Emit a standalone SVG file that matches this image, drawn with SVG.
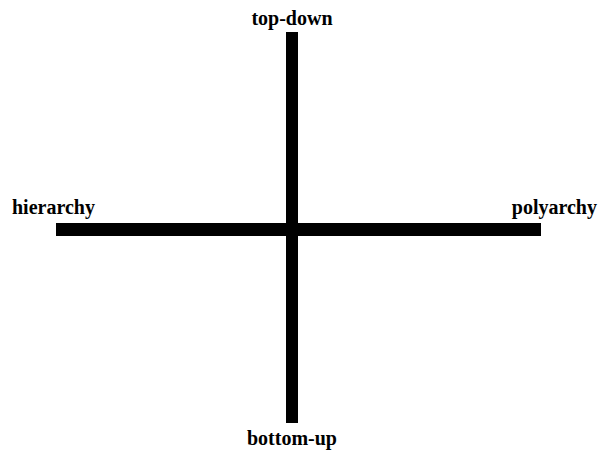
<svg xmlns="http://www.w3.org/2000/svg" width="598" height="452" viewBox="0 0 598 452">
<style>
.lbl{font-family:"Liberation Serif","Times New Roman",serif;font-size:20px;font-weight:bold;fill:#000}
.bar{fill:#000}
</style>
<rect width="598" height="452" fill="#fff"/>
<g id="connectors">
<rect class="bar" x="286" y="32" width="12" height="391"/>
<rect class="bar" x="56" y="223" width="485" height="13"/>
</g>
<g id="top-down"><text class="lbl" x="292" y="25" text-anchor="middle">top-down</text></g>
<g id="hierarchy"><text class="lbl" x="12" y="214">hierarchy</text></g>
<g id="polyarchy"><text class="lbl" x="597" y="214" text-anchor="end">polyarchy</text></g>
<g id="bottom-up"><text class="lbl" x="292" y="445" text-anchor="middle">bottom-up</text></g>
</svg>
